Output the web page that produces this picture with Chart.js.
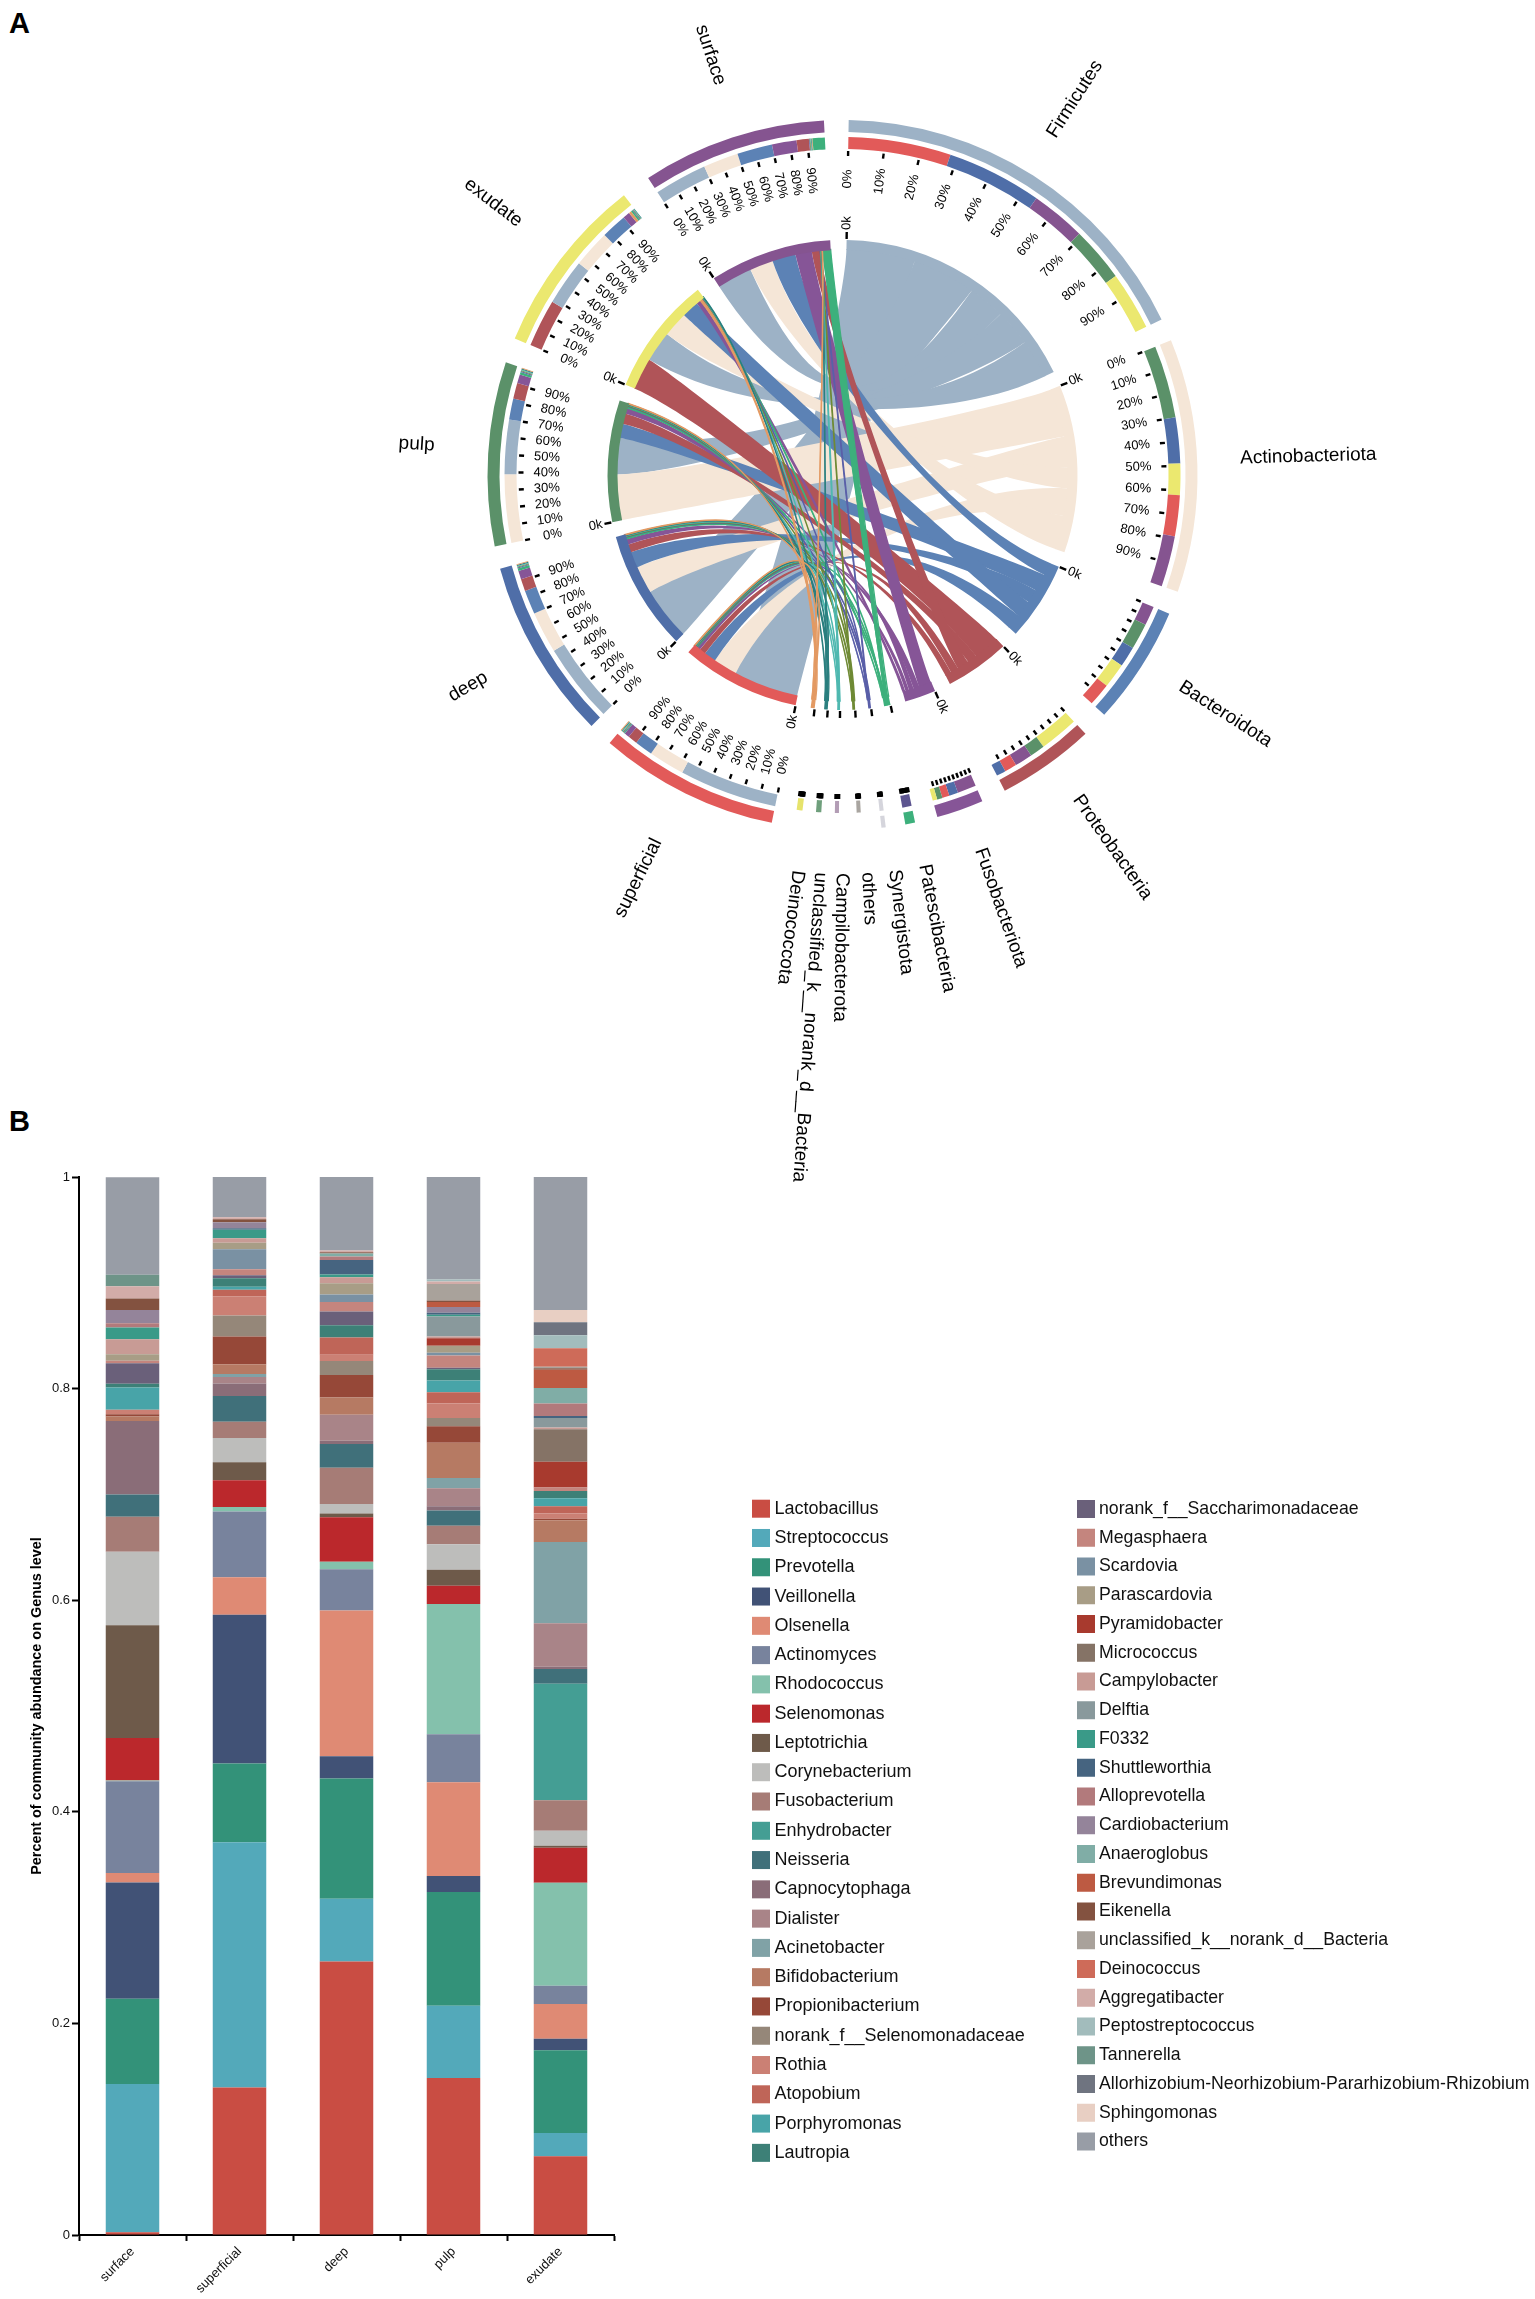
<!DOCTYPE html>
<html><head><meta charset="utf-8">
<style>
html,body{margin:0;padding:0;background:#fff;}
body{position:relative;width:1535px;height:2299px;overflow:hidden;font-family:"Liberation Sans",Arial,sans-serif;}
canvas{position:absolute;left:0;}
.tag{position:absolute;font:bold 29px "Liberation Sans",Arial,sans-serif;color:#000;left:9px;}
</style>
<script src="https://cdn.jsdelivr.net/npm/chart.js@4"></script>
</head><body>
<div class="tag" style="top:7px">A</div>
<div class="tag" style="top:1105px">B</div>
<canvas id="chord" width="1535" height="1200" style="top:0"></canvas>
<canvas id="bars" width="1535" height="1149" style="top:1150px"></canvas>
<script>
const FONT='"Liberation Sans",Arial,sans-serif';
/* ---------- Panel A: sectors, clockwise from the top ---------- */
const sectorNames=['Firmicutes','Actinobacteriota','Bacteroidota','Proteobacteria','Fusobacteriota','Patescibacteria','Synergistota','others','Campilobacterota','unclassified_k__norank_d__Bacteria','Deinococcota','superficial','deep','pulp','exudate','surface'];
const sectorSizes=[63,41.5,19.5,16,7.7,1.6,0.7,0.7,0.7,0.9,1.0,29.5,29.7,30.1,29.4,30.2];
const sectorGaps=[3.7,3.8,4.3,4.0,3.7,3.2,3.2,3.0,2.3,2.3,3.7,4.0,3.7,4.1,4.8,4.0];
const sectorColors=['#9db2c6','#f5e6d7','#5c82b5','#b05458','#865597','#3db07c','#5a5fa8','#6f8a35','#4fb8b0','#2a7f7f','#e39a63','#e25a59','#4f6ea8','#5b9169','#ebe86f','#855490'];
const outerRingColors=['#9db2c6','#f5e6d7','#5c82b5','#b05458','#865597','#3db07c','#d5d5dc','transparent','transparent','transparent','transparent','#e25a59','#4f6ea8','#5b9169','#ebe86f','#855490'];
const tinyRingColors={Patescibacteria:'#5d5590',Synergistota:'#d5d5dc',others:'#a9a5a0',Campilobacterota:'#b39db5',unclassified_k__norank_d__Bacteria:'#6f9f7c',Deinococcota:'#e6e36c'};
const labelledTicks=['Firmicutes','Actinobacteriota','superficial','deep','pulp','exudate','surface'];
/* percent of each sector shared with each partner, clockwise */
const mixFirmicutes=[['superficial',28],['deep',26],['surface',15],['pulp',15],['exudate',16]];
const mixActinobacteriota=[['pulp',30],['deep',19],['exudate',13],['superficial',17],['surface',21]];
const mixBacteroidota=[['surface',17],['pulp',23],['deep',18],['exudate',22],['superficial',20]];
const mixProteobacteria=[['exudate',42],['pulp',16],['surface',19],['superficial',13],['deep',10]];
const mixFusobacteriota=[['surface',42],['deep',20],['superficial',16],['pulp',12],['exudate',10]];
const mixPatescibacteria=[['surface',60],['pulp',15],['deep',10],['superficial',10],['exudate',5]];
const mixSynergistota=[['pulp',30],['deep',25],['surface',20],['superficial',15],['exudate',10]];
const mixOthers=[['deep',30],['pulp',25],['superficial',20],['surface',15],['exudate',10]];
const mixCampilobacterota=[['surface',35],['superficial',30],['pulp',15],['deep',15],['exudate',5]];
const mixUnclassified=[['pulp',45],['deep',20],['superficial',15],['surface',10],['exudate',10]];
const mixDeinococcota=[['exudate',55],['pulp',15],['deep',10],['superficial',12],['surface',8]];
const mixSuperficial=[['Firmicutes',57],['Actinobacteriota',21],['Bacteroidota',10.5],['Proteobacteria',5.5],['Fusobacteriota',3],['Patescibacteria',.6],['Synergistota',.4],['others',.5],['Campilobacterota',.5],['unclassified_k__norank_d__Bacteria',.5],['Deinococcota',.5]];
const mixDeep=[['Firmicutes',46],['Actinobacteriota',24],['Bacteroidota',14],['Proteobacteria',7],['Fusobacteriota',5],['Patescibacteria',1.5],['Synergistota',.5],['others',.5],['Campilobacterota',.5],['unclassified_k__norank_d__Bacteria',.5],['Deinococcota',.5]];
const mixPulp=[['Actinobacteriota',39],['Firmicutes',31],['Bacteroidota',12],['Proteobacteria',9],['Fusobacteriota',5],['Patescibacteria',1.5],['Synergistota',.5],['others',.5],['Campilobacterota',.5],['unclassified_k__norank_d__Bacteria',.5],['Deinococcota',.5]];
const mixExudate=[['Proteobacteria',28],['Firmicutes',27],['Actinobacteriota',22],['Bacteroidota',15],['Fusobacteriota',4],['Deinococcota',1.5],['Patescibacteria',1],['Synergistota',.4],['others',.4],['Campilobacterota',.3],['unclassified_k__norank_d__Bacteria',.4]];
const mixSurface=[['Firmicutes',30],['Actinobacteriota',20],['Bacteroidota',20],['Fusobacteriota',14],['Proteobacteria',7],['Synergistota',.4],['others',.4],['Campilobacterota',.4],['unclassified_k__norank_d__Bacteria',.4],['Deinococcota',.4],['Patescibacteria',7]];
const sectorMixes=[mixFirmicutes,mixActinobacteriota,mixBacteroidota,mixProteobacteria,mixFusobacteriota,mixPatescibacteria,mixSynergistota,mixOthers,mixCampilobacterota,mixUnclassified,mixDeinococcota,mixSuperficial,mixDeep,mixPulp,mixExudate,mixSurface];
const phylumCount=11;
const tinyFrom=5;
const tickFractions=[0,.1,.2,.3,.4,.5,.6,.7,.8,.9];

/* ---------- Panel B ---------- */
const samples=['surface','superficial','deep','pulp','exudate'];
const genera=['Lactobacillus','Streptococcus','Prevotella','Veillonella','Olsenella','Actinomyces','Rhodococcus','Selenomonas','Leptotrichia','Corynebacterium','Fusobacterium','Enhydrobacter','Neisseria','Capnocytophaga','Dialister','Acinetobacter','Bifidobacterium','Propionibacterium','norank_f__Selenomonadaceae','Rothia','Atopobium','Porphyromonas','Lautropia','norank_f__Saccharimonadaceae','Megasphaera','Scardovia','Parascardovia','Pyramidobacter','Micrococcus','Campylobacter','Delftia','F0332','Shuttleworthia','Alloprevotella','Cardiobacterium','Anaeroglobus','Brevundimonas','Eikenella','unclassified_k__norank_d__Bacteria','Deinococcus','Aggregatibacter','Peptostreptococcus','Tannerella','Allorhizobium-Neorhizobium-Pararhizobium-Rhizobium','Sphingomonas','others'];
const genusColors=['#c94d43','#53a9ba','#339279','#415276','#df8a74','#78839d','#84c1ac','#bb282c','#6e5a4a','#bdbdbb','#a67c76','#449e94','#40707a','#8a6d78','#a98488','#80a2a6','#b67a63','#964838','#958779','#cb8074','#bf6558','#48a4a8','#3d8077','#6a607a','#c4857e','#7a91a3','#a89d86','#a83a2e','#857366','#c89b95','#89999c','#3a9a88','#466480','#b27a7c','#94849a','#80ada6','#bd5a42','#835240','#a9a29b','#ce6b59','#d2aca8','#a2bcbc','#6e9488','#6f7480','#e8cfc3','#989da6'];
const surfaceShare=[.0025,.1402,.0806,.1099,.009,.0867,.0007,.0401,.1066,.0694,.0332,0,.021,.0694,0,0,.0043,.0022,0,.0043,0,.021,.0036,.0192,.0025,0,.0061,0,0,.0141,0,.0112,0,.004,.0126,0,0,.0108,0,0,.0116,0,.0108,0,0,.0922];
const superficialShare=[.1395,.2317,.0744,.1406,.0354,.0622,.0043,.0253,.017,.0228,.0155,0,.0242,.0119,.0062,.0029,.009,.0264,.0199,.018,.0062,.0029,.0079,.0029,.0058,.0188,.0061,0,0,.0044,0,.0079,.0014,0,.0057,0,0,.0029,0,0,.0018,0,0,0,0,.038];
const deepShare=[.2584,.0593,.1138,.021,.1377,.039,.0072,.042,.0036,.009,.0343,0,.0224,.0029,.0246,0,.0163,.0213,.0134,.0058,.0162,0,.0116,.013,.009,.0072,.0105,0,0,.0058,0,.0025,.0138,.0032,0,.0029,0,.0011,0,0,.0018,0,0,0,0,.0694];
const pulpShare=[.1485,.0683,.1074,.0152,.0885,.0455,.1229,.0174,.0151,.0242,.0174,0,.0145,.0039,.017,.0098,.0332,.0156,.0079,.0137,.0105,.0112,.0105,.0015,.0115,.0026,.0068,.0069,0,.0018,.0188,.0018,.0018,0,.0054,0,.0047,.0015,.0155,0,.0025,.0018,0,0,0,.0969];
const exudateShare=[.0744,.0221,.0781,.0108,.0329,.0173,.0973,.0332,.0018,.0141,.0289,.1102,.0138,.0021,.0412,.0767,.0206,.0014,0,.0051,.0068,.0076,.0069,0,.0032,0,0,.0243,.0307,.0018,.009,0,.0018,.0119,0,.0145,.0174,.0014,.0014,.0174,0,.0123,0,.0123,.0115,.1258];
const sampleShares=[surfaceShare,superficialShare,deepShare,pulpShare,exudateShare];
const yTicks=[0,.2,.4,.6,.8,1];
const legendFirstColumn=23;

/* ---------- build chord rings ---------- */
const T='transparent';
const inD=[],inC=[],outC=[];
sectorSizes.forEach((s,i)=>{inD.push(s,sectorGaps[i]);inC.push(sectorColors[i],T);outC.push(outerRingColors[i],T);});
const midD=[],midC=[];
sectorSizes.forEach((s,i)=>{
  const tint=tinyRingColors[sectorNames[i]];
  if(tint){midD.push(s);midC.push(tint);}
  else sectorMixes[i].forEach(([p,pct])=>{midD.push(s*pct/100);midC.push(sectorColors[sectorNames.indexOf(p)]);});
  midD.push(sectorGaps[i]);midC.push(T);
});
const chordPlugin={id:'chord',
 beforeDatasetsDraw(chart){
  const ctx=chart.ctx,arcs=chart.getDatasetMeta(4).data;
  const a0=arcs[0],cx=a0.x,cy=a0.y,R=a0.innerRadius+1;
  const sect=i=>arcs[i*2];
  const span=(i,partner)=>{const m=sectorMixes[i],A=sect(i);let acc=0;
    for(const [p,pct] of m){if(p===partner){const w=A.endAngle-A.startAngle;return [A.startAngle+w*acc/100,A.startAngle+w*(acc+pct)/100];}acc+=pct;}
    return null;};
  const edge=(from,to)=>{
    let d=Math.abs(from-to)%(2*Math.PI);if(d>Math.PI)d=2*Math.PI-d;
    const k=(.25+.75*Math.pow(d/Math.PI,3))*R;
    ctx.bezierCurveTo(cx+k*Math.cos(from),cy+k*Math.sin(from),cx+k*Math.cos(to),cy+k*Math.sin(to),cx+R*Math.cos(to),cy+R*Math.sin(to));};
  for(let p=0;p<phylumCount;p++){
    ctx.fillStyle=sectorColors[p];ctx.strokeStyle=sectorColors[p];ctx.lineWidth=1.3;
    sectorMixes[p].forEach(([s])=>{
      const a=span(p,s),b=span(sectorNames.indexOf(s),sectorNames[p]);if(!a||!b)return;
      ctx.beginPath();
      ctx.arc(cx,cy,R,a[0],a[1]);
      edge(a[1],b[0]);
      ctx.arc(cx,cy,R,b[0],b[1]);
      edge(b[1],a[0]);
      ctx.closePath();ctx.fill();
      if(p>=tinyFrom)ctx.stroke();
    });
  }
 },
 afterDatasetsDraw(chart){
  const ctx=chart.ctx,arcs=chart.getDatasetMeta(4).data,ring2=chart.getDatasetMeta(2).data[0];
  const cx=arcs[0].x,cy=arcs[0].y,Rin=arcs[0].outerRadius,R2=ring2.innerRadius;
  const rText=(ang,r,txt,font,align,flipAt,lift)=>{
    const deg=(ang*180/Math.PI+90+360)%360; /* clockwise from top */
    const flip=flipAt&&deg>180;
    ctx.save();ctx.translate(cx+r*Math.cos(ang),cy+r*Math.sin(ang));
    ctx.rotate(flip?ang+Math.PI:ang);
    ctx.font=font;ctx.fillStyle='#000';ctx.textBaseline='middle';
    ctx.textAlign=flip&&align!=='center'?(align==='left'?'right':'left'):align;
    ctx.fillText(txt,0,-(lift||0));ctx.restore();};
  const tick=(ang,r0,r1,w)=>{ctx.beginPath();ctx.lineWidth=w;ctx.strokeStyle='#000';
    ctx.moveTo(cx+r0*Math.cos(ang),cy+r0*Math.sin(ang));ctx.lineTo(cx+r1*Math.cos(ang),cy+r1*Math.sin(ang));ctx.stroke();};
  sectorNames.forEach((name,i)=>{
    const A=arcs[i*2],w=A.endAngle-A.startAngle;
    tick(A.startAngle,Rin+1,Rin+8,2.4);
    if(labelledTicks.includes(name)||['Bacteroidota','Proteobacteria','Fusobacteriota'].includes(name))
      rText(A.startAngle,Rin+17,'0k','13px '+FONT,'center',true);
    tickFractions.forEach(f=>{
      const ang=A.startAngle+w*f;
      tick(ang,R2-2,R2-7,2.4);
      if(labelledTicks.includes(name))rText(ang,R2-30,Math.round(f*100)+'%','13px '+FONT,'center',true);
    });
    const mid=(A.startAngle+A.endAngle)/2;
    if(i<phylumCount)rText(mid,398,name,'19px '+FONT,'left',false,6);
    else rText(mid,409,name,'19px '+FONT,'left',true,5);
  });
 }};
new Chart(document.getElementById('chord'),{type:'doughnut',
 data:{datasets:[
  {data:inD,backgroundColor:outC,weight:12,borderWidth:0},
  {data:[1],backgroundColor:[T],weight:5,borderWidth:0},
  {data:midD,backgroundColor:midC,weight:12,borderWidth:0},
  {data:[1],backgroundColor:[T],weight:91,borderWidth:0},
  {data:inD,backgroundColor:inC,weight:10,borderWidth:0}
 ]},
 options:{responsive:false,animation:false,events:[],rotation:1,radius:355,cutout:'63.38%',
  layout:{padding:{left:150,bottom:250}},
  plugins:{legend:{display:false},tooltip:{enabled:false}}},
 plugins:[chordPlugin]});

/* ---------- stacked bars ---------- */
const legendPlugin={id:'genusLegend',afterDraw(chart){
  const ctx=chart.ctx;ctx.save();ctx.textBaseline='middle';ctx.textAlign='left';
  genera.forEach((g,i)=>{
    const first=i<legendFirstColumn,row=first?i:i-legendFirstColumn;
    const x=first?752:1077,y=(first?1508.7:1509)-1150+row*(first?29.28:28.75);
    ctx.fillStyle=chart.data.datasets[i].backgroundColor;ctx.fillRect(x,y-9,18,18);
    ctx.font=(first?18:17.7)+'px '+FONT;
    ctx.fillStyle='#111';ctx.fillText(g,x+(first?22.5:22),y);
  });ctx.restore();}};
new Chart(document.getElementById('bars'),{type:'bar',
 data:{labels:samples,datasets:genera.map((g,i)=>({label:g,data:sampleShares.map(a=>a[i]),backgroundColor:genusColors[i],borderWidth:0,barPercentage:.5,categoryPercentage:1}))},
 options:{responsive:false,animation:false,events:[],
  layout:{padding:{top:27,left:28,right:921,bottom:0}},
  plugins:{legend:{display:false},tooltip:{enabled:false}},
  scales:{
   x:{stacked:true,border:{color:'#000',width:2},
      grid:{drawOnChartArea:false,drawTicks:true,tickLength:6,tickColor:'#000',tickWidth:2},
      ticks:{maxRotation:45,minRotation:45,color:'#111',font:{family:FONT,size:13},padding:3},
      afterFit:s=>{s.height=64;}},
   y:{stacked:true,min:0,max:1,border:{color:'#000',width:2},
      afterBuildTicks:s=>{s.ticks=yTicks.map(v=>({value:v}));},
      grid:{drawOnChartArea:false,drawTicks:true,tickLength:7,tickColor:'#000',tickWidth:2},
      ticks:{color:'#111',font:{family:FONT,size:13},padding:2,callback:v=>String(+v.toFixed(1))},
      title:{display:true,text:'Percent of community abundance on Genus level',color:'#000',font:{family:FONT,size:14.4,weight:'bold'},padding:0},
      afterFit:s=>{s.width=51;}}
  }},
 plugins:[legendPlugin]});
</script>
</body></html>
